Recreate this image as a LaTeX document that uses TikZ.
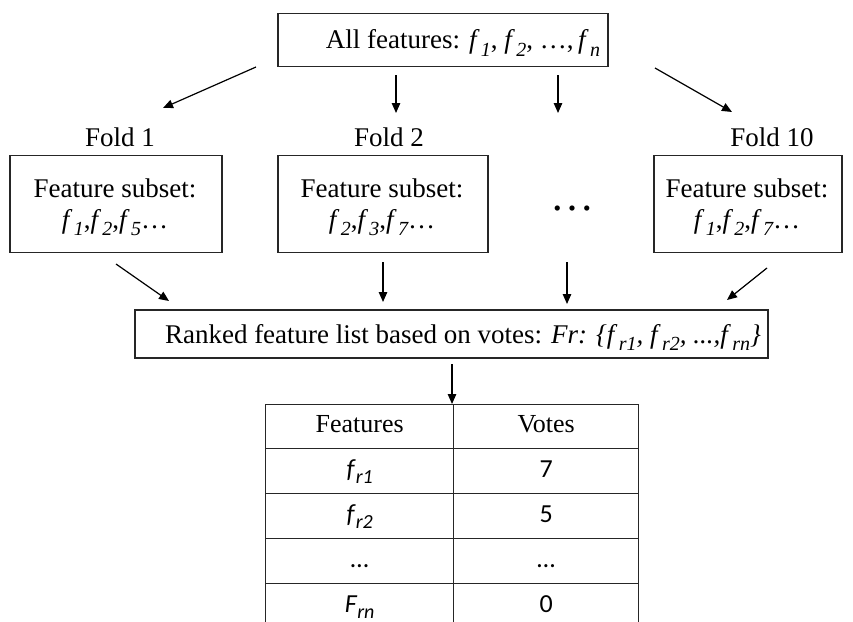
\documentclass[tikz,border=0pt]{standalone}
\usepackage{fontspec}
\setmainfont{Liberation Serif}
\newfontfamily\calfont{Carlito}
\usetikzlibrary{arrows.meta}
\newcommand\subx[1]{\raisebox{-0.26em}{\fontsize{20}{20}\selectfont\itshape #1}}
\newcommand\ff[1]{\textit{f}\kern0.05em\subx{#1}}
\begin{document}
\begin{tikzpicture}[x=1pt,y=-1pt,
  box/.style={draw=black!85,line width=1.3pt,inner sep=0pt},
  txt/.style={inner sep=0pt,font=\fontsize{27}{31}\selectfont,align=center},
  lbl/.style={inner sep=0pt,font=\fontsize{27}{31}\selectfont},
  cell/.style={draw=black!85,line width=1.3pt,inner sep=0pt,anchor=north west,font=\fontsize{26}{31}\selectfont,text height=18pt,text depth=6pt},
  bcell/.style={cell,font=\fontsize{26}{31}\selectfont\calfont},
  arr/.style={line width=1.2pt,-{Triangle[length=10pt,width=8.5pt]}}]
\useasboundingbox (0,0) rectangle (853,621);
\fill[white] (0,0) rectangle (853,621);
% top
\node[box,minimum width=330pt,minimum height=53pt] (top) at (443,40) {};
\node[txt] (topt) at (463,43) {All features: \ff{1}, \ff{2}, \dots,\,\ff{n}};
% fold labels
\node[lbl] (fl1) at (120,137) {Fold 1};
\node[lbl] (fl2) at (389,137) {Fold 2};
\node[lbl] (fl10) at (772,137) {Fold 10};
% fold boxes
\node[box,minimum width=212pt,minimum height=97pt] (b1) at (116,204) {};
\node[txt] (b1t) at (115,207) {Feature subset:\\\ff{1},\ff{2},\ff{5}\dots};
\node[box,minimum width=210pt,minimum height=97pt] (b2) at (383,204) {};
\node[txt] (b2t) at (382,207) {Feature subset:\\\ff{2},\ff{3},\ff{7}\dots};
\node[box,minimum width=188pt,minimum height=97pt] (b10) at (748,204) {};
\node[txt] (b10t) at (747,207) {Feature subset:\\\ff{1},\ff{2},\ff{7}\dots};
\node[inner sep=0pt,font=\fontsize{44}{44}\selectfont] (dots) at (572,209) {\dots};
% ranked
\node[box,minimum width=633pt,minimum height=48pt] (rk) at (451.5,334) {};
\node[txt] (rkt) at (463,337) {Ranked feature list based on votes: \textit{Fr: \{}\ff{r1}\textit{, }\ff{r2}\textit{, ...,}\ff{rn}\textit{\}}};
% table
\node[cell,minimum width=188pt,minimum height=44pt] (h1) at (265,404) {Features};
\node[cell,minimum width=185pt,minimum height=44pt] (h2) at (453,404) {Votes};
\node[bcell,minimum width=188pt,minimum height=45pt] (a1) at (265,448) {\textit{f}\subx{r1}};
\node[bcell,minimum width=185pt,minimum height=45pt] (a2) at (453,448) {7};
\node[bcell,minimum width=188pt,minimum height=45pt] (c1) at (265,493) {\textit{f}\subx{r2}};
\node[bcell,minimum width=185pt,minimum height=45pt] (c2) at (453,493) {5};
\node[bcell,minimum width=188pt,minimum height=45pt] (d1) at (265,538) {\dots};
\node[bcell,minimum width=185pt,minimum height=45pt] (d2) at (453,538) {\dots};
\node[bcell,minimum width=188pt,minimum height=45pt] (e1) at (265,583) {\textit{F}\subx{rn}};
\node[bcell,minimum width=185pt,minimum height=45pt] (e2) at (453,583) {0};
% arrow coordinates
\coordinate (t1s) at (256,67);  \coordinate (t1e) at (163,108);
\coordinate (t2s) at (396,75);  \coordinate (t2e) at (396,113);
\coordinate (t3s) at (558,75);  \coordinate (t3e) at (558,113);
\coordinate (t4s) at (655,68);  \coordinate (t4e) at (732,112);
\coordinate (r1s) at (116,264); \coordinate (r1e) at (169,301);
\coordinate (r2s) at (383,262); \coordinate (r2e) at (383,302);
\coordinate (r3s) at (567,262); \coordinate (r3e) at (567,304);
\coordinate (r4s) at (767,268); \coordinate (r4e) at (727,300);
\coordinate (ks) at (452,364);  \coordinate (ke) at (452,404);
\draw[arr] (t1s) -- (t1e);
\draw[arr] (t2s) -- (t2e);
\draw[arr] (t3s) -- (t3e);
\draw[arr] (t4s) -- (t4e);
\draw[arr] (r1s) -- (r1e);
\draw[arr] (r2s) -- (r2e);
\draw[arr] (r3s) -- (r3e);
\draw[arr] (r4s) -- (r4e);
\draw[arr] (ks) -- (ke);
\end{tikzpicture}
\end{document}
